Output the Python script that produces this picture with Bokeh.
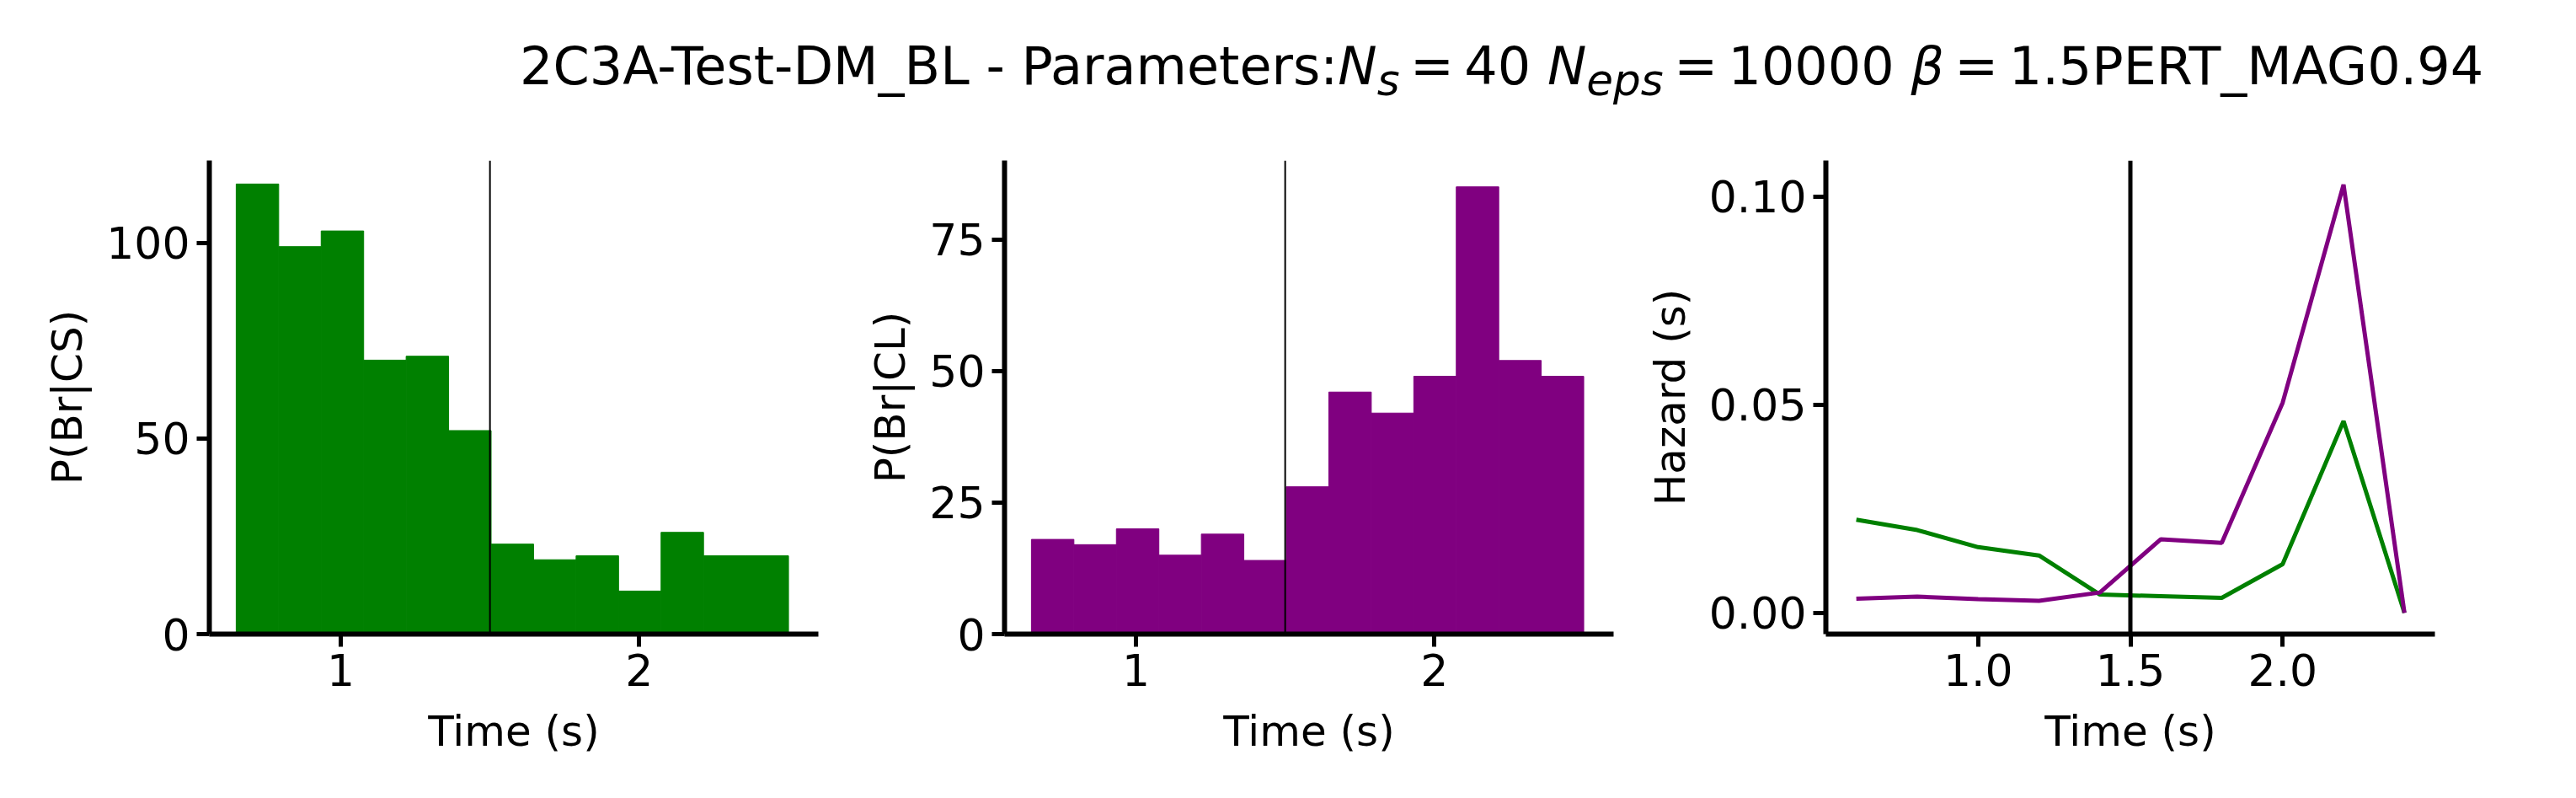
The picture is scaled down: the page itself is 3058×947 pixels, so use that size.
import numpy as np
from bokeh.plotting import figure
from bokeh.layouts import column, row
from bokeh.models import Div, FixedTicker, NumeralTickFormatter, Span
from bokeh.embed import file_html
from bokeh.resources import INLINE

# histogram bins (s)
bin_start, bin_stop, n_bins = 0.65, 2.5, 13
counts_cs = [115, 99, 103, 70, 71, 52, 23, 19, 20, 11, 26, 20, 20]
counts_cl = [18, 17, 20, 15, 19, 14, 28, 46, 42, 49, 85, 52, 49]

# hazard curves
hazard_t = [0.6, 0.8, 1.0, 1.2, 1.4, 1.6, 1.8, 2.0, 2.2, 2.4]
hazard_cs = [0.0224, 0.0199, 0.0158, 0.0138, 0.0044, 0.0040, 0.0036, 0.0117, 0.0461, 0.0]
hazard_cl = [0.0034, 0.0039, 0.0033, 0.0029, 0.0049, 0.0177, 0.0168, 0.0505, 0.1029, 0.0]

split_time = 1.5
GREEN, PURPLE = "#008000", "#800080"
FONT = "DejaVu Sans"

edges = np.linspace(bin_start, bin_stop, n_bins + 1)


def make_fig(x_range, y_range, left, right, ylabel):
    p = figure(frame_width=723, frame_height=562, x_range=x_range, y_range=y_range,
               min_border_left=left, min_border_right=right, min_border_top=60,
               min_border_bottom=10, output_backend="svg", toolbar_location=None)
    p.outline_line_color = None
    p.grid.grid_line_color = None
    p.background_fill_color = "white"
    for ax in (p.xaxis[0], p.yaxis[0]):
        ax.axis_line_width = 6
        ax.major_tick_line_width = 5
        ax.major_tick_out = 15
        ax.major_tick_in = 0
        ax.minor_tick_line_color = None
        ax.major_label_text_font = FONT
        ax.major_label_text_font_size = "52px"
        ax.major_label_text_color = "black"
        ax.major_label_standoff = 8
        ax.axis_label_text_font = FONT
        ax.axis_label_text_font_size = "50px"
        ax.axis_label_text_font_style = "normal"
        ax.axis_label_text_color = "black"
    p.xaxis.axis_label_standoff = 22
    p.yaxis.axis_label_standoff = 14
    p.xaxis.axis_label = "Time (s)"
    p.yaxis.axis_label = ylabel
    return p


p1 = make_fig((0.56, 2.6), (0, 121), 248, 20, "P(Br|CS)")
p1.quad(left=edges[:-1], right=edges[1:], bottom=0, top=counts_cs,
        fill_color=GREEN, line_color=GREEN, line_width=1)
p1.add_layout(Span(location=split_time, dimension="height", line_color="black", line_width=2))
p1.xaxis.ticker = FixedTicker(ticks=[1, 2])
p1.yaxis.ticker = FixedTicker(ticks=[0, 50, 100])

p2 = make_fig((0.56, 2.6), (0, 90), 201, 20, "P(Br|CL)")
p2.quad(left=edges[:-1], right=edges[1:], bottom=0, top=counts_cl,
        fill_color=PURPLE, line_color=PURPLE, line_width=1)
p2.add_layout(Span(location=split_time, dimension="height", line_color="black", line_width=2))
p2.xaxis.ticker = FixedTicker(ticks=[1, 2])
p2.yaxis.ticker = FixedTicker(ticks=[0, 25, 50, 75])

p3 = make_fig((0.5, 2.5), (-0.0051, 0.1087), 232, 140, "Hazard (s)")
p3.line(hazard_t, hazard_cs, line_color=GREEN, line_width=5)
p3.line(hazard_t, hazard_cl, line_color=PURPLE, line_width=5)
p3.add_layout(Span(location=split_time, dimension="height", line_color="black", line_width=5))
p3.xaxis.ticker = FixedTicker(ticks=[1.0, 1.5, 2.0])
p3.xaxis.formatter = NumeralTickFormatter(format="0.0")
p3.yaxis.ticker = FixedTicker(ticks=[0, 0.05, 0.1])
p3.yaxis.formatter = NumeralTickFormatter(format="0.00")

title = Div(
    text=("2C3A-Test-DM_BL - Parameters:<i>N</i><sub><i>s</i></sub>&thinsp;=&thinsp;40 "
          "<i>N</i><sub><i>eps</i></sub>&thinsp;=&thinsp;10000 "
          "<i>&beta;</i>&thinsp;=&thinsp;1.5PERT_MAG0.94"),
    width=3040, height=120,
    styles={"font-family": FONT, "font-size": "62px", "padding-left": "612px",
            "padding-top": "30px", "white-space": "nowrap", "color": "black"})

layout = column(title, row(p1, p2, p3), spacing=0)
open("out.html", "w").write(file_html(layout, INLINE))
